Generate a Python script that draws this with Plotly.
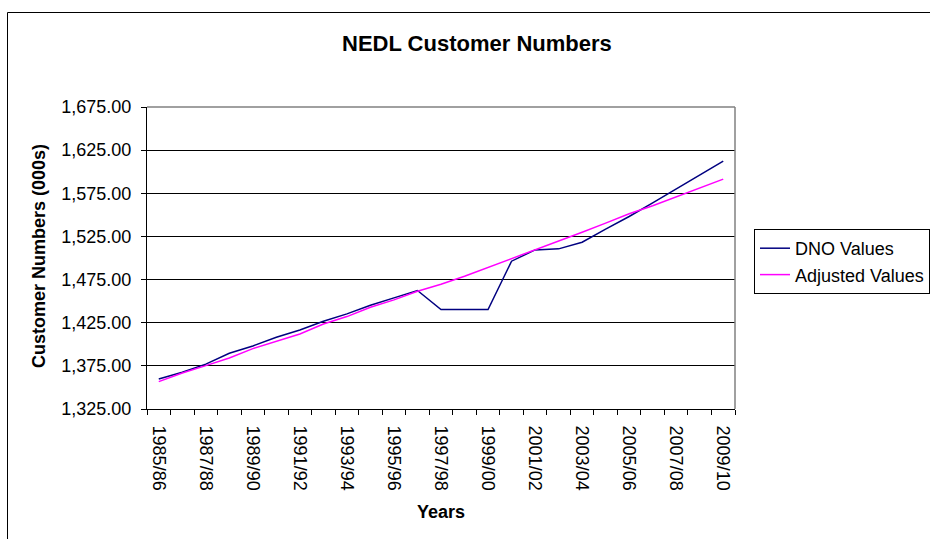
import plotly.graph_objects as go

years = ["1985/86", "1986/87", "1987/88", "1988/89", "1989/90", "1990/91", "1991/92",
         "1992/93", "1993/94", "1994/95", "1995/96", "1996/97", "1997/98", "1998/99",
         "1999/00", "2000/01", "2001/02", "2002/03", "2003/04", "2004/05", "2005/06",
         "2006/07", "2007/08", "2008/09", "2009/10"]

dno_values = [1359.8, 1367.5, 1377.0, 1389.6, 1398.1, 1408.1, 1416.6, 1426.7, 1435.2,
              1445.3, 1453.8, 1462.3, 1440.2, 1440.2, 1440.2, 1496.3, 1509.4, 1510.6,
              1518.3, 1533.4, 1548.1, 1564.0, 1579.8, 1596.1, 1612.3]

adjusted_values = [1356.7, 1366.8, 1375.3, 1384.2, 1395.0, 1403.5, 1412.0, 1423.5, 1432.1,
                   1443.0, 1451.5, 1461.5, 1469.5, 1478.9, 1489.0, 1499.0, 1509.5, 1519.9,
                   1529.9, 1540.4, 1551.2, 1560.5, 1571.0, 1581.0, 1591.4]

y_ticks = [1325, 1375, 1425, 1475, 1525, 1575, 1625, 1675]

FONT = "Liberation Sans, Arial, sans-serif"
idx = list(range(len(years)))

fig = go.Figure()
fig.add_trace(go.Scatter(x=idx, y=dno_values, mode="lines", name="DNO Values",
                         line=dict(color="#000080", width=1.5)))
fig.add_trace(go.Scatter(x=idx, y=adjusted_values, mode="lines", name="Adjusted Values",
                         line=dict(color="#FF00FF", width=1.5)))

W, H = 930, 539
L, R, T, B = 147, 195, 107, 130
pw = W - L - R
ph = H - T - B

def px(xp):
    return (xp - L) / pw

def py(yp):
    return (H - B - yp) / ph

fig.update_layout(
    width=W, height=H,
    margin=dict(l=L, r=R, t=T, b=B, pad=0, autoexpand=False),
    paper_bgcolor="white", plot_bgcolor="white",
    font=dict(family=FONT, size=18, color="black"),
    showlegend=True,
    legend=dict(x=px(754), y=py(229), xanchor="left", yanchor="top",
                bordercolor="black", borderwidth=1, bgcolor="white",
                font=dict(family=FONT, size=18, color="black"),
                tracegroupgap=0, itemwidth=30),
    xaxis=dict(range=[-0.5, len(years) - 0.5], tickmode="array",
               tickvals=idx[::2], ticktext=years[::2], tickangle=90,
               ticks="", showgrid=False, zeroline=False, ticklabelstandoff=12,
               showline=True, linecolor="black", linewidth=1,
               tickfont=dict(family=FONT, size=18, color="black"),
               minor=dict(tickmode="array", tickvals=[i - 0.5 for i in range(len(years) + 1)],
                          ticks="outside", ticklen=5, tickcolor="black", tickwidth=1,
                          showgrid=False)),
    yaxis=dict(range=[1325, 1675], tickmode="array", tickvals=y_ticks,
               tickformat=",.2f", ticks="outside", ticklen=5, tickcolor="black",
               ticklabelstandoff=6,
               showgrid=True, gridcolor="black", gridwidth=1, zeroline=False,
               showline=True, linecolor="black", linewidth=1,
               tickfont=dict(family=FONT, size=18, color="black")),
)

# outer chart border (cut off at right and bottom as in reference)
fig.add_shape(type="rect", xref="paper", yref="paper",
              x0=px(7.5), x1=px(945), y0=py(560), y1=py(12.5),
              line=dict(color="black", width=1), layer="below")
# plot-area border top and right in grey
fig.add_shape(type="line", xref="paper", yref="paper", x0=0, x1=1, y0=1, y1=1,
              line=dict(color="#808080", width=1.5))
fig.add_shape(type="line", xref="paper", yref="paper", x0=1, x1=1, y0=0, y1=1,
              line=dict(color="#808080", width=1.5))

fig.add_annotation(text="<b>NEDL Customer Numbers</b>", xref="paper", yref="paper",
                   x=px(477), y=py(43.5), xanchor="center", yanchor="middle",
                   showarrow=False, font=dict(family=FONT, size=22, color="black"))
fig.add_annotation(text="<b>Customer Numbers (000s)</b>", xref="paper", yref="paper",
                   x=px(39), y=py(256), xanchor="center", yanchor="middle", textangle=-90,
                   showarrow=False, font=dict(family=FONT, size=18, color="black"))
fig.add_annotation(text="<b>Years</b>", xref="paper", yref="paper",
                   x=px(441), y=py(512), xanchor="center", yanchor="middle",
                   showarrow=False, font=dict(family=FONT, size=18, color="black"))

fig.write_html("out.html")
